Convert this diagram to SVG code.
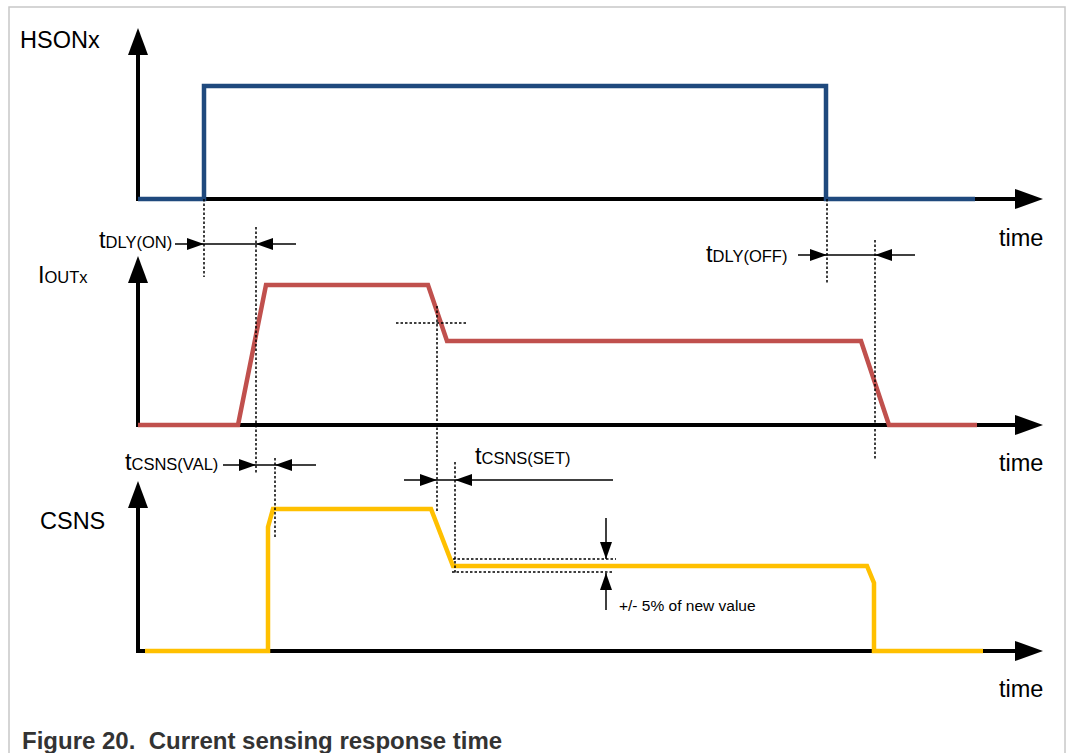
<svg xmlns="http://www.w3.org/2000/svg" width="1066" height="753" viewBox="0 0 1066 753">
<style>
.frame{fill:#fff;stroke:#c8c8c8;stroke-width:1.5}
.axis{stroke:#000;stroke-width:4;fill:none}
.head{fill:#000}
.sig{fill:none;stroke-width:4.5;stroke-linejoin:miter}
.blue{stroke:#1f497d}
.red{stroke:#c0504d}
.yel{stroke:#ffc000}
.dot{stroke:#000;stroke-width:1.5;stroke-dasharray:2.5 2;fill:none}
.dim{stroke:#000;stroke-width:1.5;fill:none}
.lbl{font-family:"Liberation Sans",Arial,sans-serif;fill:#000}
.big{font-size:23.5px}
.sub{font-size:16.5px}
.note{font-size:15.5px}
.cap{font-family:"Liberation Sans",Arial,sans-serif;font-weight:bold;font-size:24px;fill:#333;white-space:pre}
</style>
<defs>
<marker id="dimR" markerWidth="18" markerHeight="12" refX="17" refY="6" orient="auto" markerUnits="userSpaceOnUse">
<polygon points="0,0 17,6 0,12" fill="#000"/>
</marker>
</defs>
<rect class="frame" x="9" y="7" width="1056" height="760"/>

<g id="axes">
<g id="hson-axes">
<polyline class="axis" points="138,52 138,199 1018,199"/>
<polygon class="head" points="138,28 128,55 148,55"/>
<polygon class="head" points="1043,199 1015,189 1015,209"/>
</g>
<g id="iout-axes">
<polyline class="axis" points="138,280 138,425 1018,425"/>
<polygon class="head" points="138,256 128,283 148,283"/>
<polygon class="head" points="1043,425 1015,415 1015,435"/>
</g>
<g id="csns-axes">
<polyline class="axis" points="138,505 138,651 1018,651"/>
<polygon class="head" points="138,481 128,508 148,508"/>
<polygon class="head" points="1043,651 1015,641 1015,661"/>
</g>
</g>

<g id="signals">
<polyline id="hson-signal" class="sig blue" points="138,199 204,199 204,86 826,86 826,199 975,199"/>
<polyline id="iout-signal" class="sig red" points="138,425 238,425 266,285 428,285 447,341 861,341 889,425 977,425"/>
<polyline id="csns-signal" class="sig yel" points="145,651 268,651 268,527 273,509 431,509 453,566 867,566 874,583 874,651 983,651"/>
</g>

<g id="guides">
<line class="dot" x1="204" y1="199" x2="204" y2="277"/>
<line class="dot" x1="256" y1="227" x2="256" y2="473"/>
<line class="dot" x1="827" y1="199" x2="827" y2="283"/>
<line class="dot" x1="875" y1="240" x2="875" y2="460"/>
<line class="dot" x1="396" y1="323" x2="466" y2="323"/>
<line class="dot" x1="437" y1="306" x2="437" y2="511"/>
<line class="dot" x1="275" y1="458" x2="275" y2="538"/>
<line class="dot" x1="455" y1="462" x2="455" y2="573"/>
<line class="dot" x1="453" y1="559" x2="616" y2="559"/>
<line class="dot" x1="452" y1="572" x2="614" y2="572"/>
</g>

<g id="connectors">
<line class="dim" x1="175" y1="244" x2="204" y2="244" marker-end="url(#dimR)"/>
<line class="dim" x1="204" y1="244" x2="256" y2="244"/>
<line class="dim" x1="296" y1="244" x2="256" y2="244" marker-end="url(#dimR)"/>

<line class="dim" x1="798" y1="255" x2="827" y2="255" marker-end="url(#dimR)"/>
<line class="dim" x1="827" y1="255" x2="875" y2="255"/>
<line class="dim" x1="915" y1="255" x2="875" y2="255" marker-end="url(#dimR)"/>

<line class="dim" x1="223" y1="465" x2="256" y2="465" marker-end="url(#dimR)"/>
<line class="dim" x1="256" y1="465" x2="275" y2="465"/>
<line class="dim" x1="316" y1="465" x2="275" y2="465" marker-end="url(#dimR)"/>

<line class="dim" x1="404" y1="480" x2="437" y2="480" marker-end="url(#dimR)"/>
<line class="dim" x1="437" y1="480" x2="455" y2="480"/>
<line class="dim" x1="613" y1="480" x2="455" y2="480" marker-end="url(#dimR)"/>

<line class="dim" x1="606" y1="518" x2="606" y2="559" marker-end="url(#dimR)"/>
<line class="dim" x1="606" y1="610" x2="606" y2="573" marker-end="url(#dimR)"/>
</g>

<g id="labels">
<text class="lbl big" x="20" y="48">HSONx</text>
<text class="lbl" x="38" y="283"><tspan class="big">I</tspan><tspan class="sub">OUTx</tspan></text>
<text class="lbl big" x="40" y="529">CSNS</text>
<text class="lbl" x="99" y="248"><tspan class="big">t</tspan><tspan class="sub">DLY(ON)</tspan></text>
<text class="lbl" x="706" y="262"><tspan class="big">t</tspan><tspan class="sub">DLY(OFF)</tspan></text>
<text class="lbl" x="125" y="470"><tspan class="big">t</tspan><tspan class="sub">CSNS(VAL)</tspan></text>
<text class="lbl" x="475" y="464"><tspan class="big">t</tspan><tspan class="sub">CSNS(SET)</tspan></text>
<text class="lbl note" x="619" y="611">+/- 5% of new value</text>
<text class="lbl big" x="999" y="246">time</text>
<text class="lbl big" x="999" y="471">time</text>
<text class="lbl big" x="999" y="697">time</text>
<text class="cap" x="22" y="749" xml:space="preserve">Figure 20.  Current sensing response time</text>
</g>
</svg>
